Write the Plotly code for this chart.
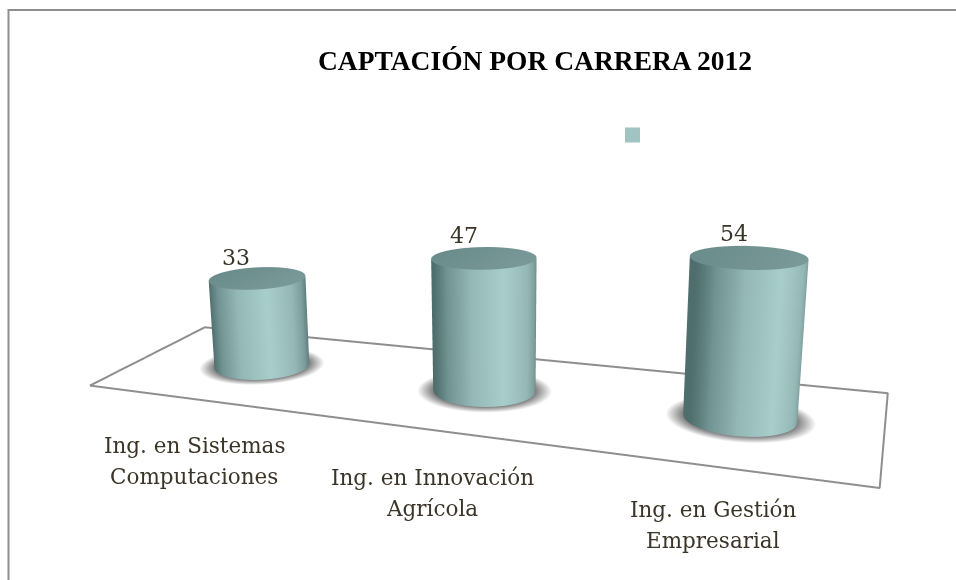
import numpy as np
import plotly.graph_objects as go

categories = ["Ing. en Sistemas<br>Computaciones", "Ing. en Innovación<br>Agrícola", "Ing. en Gestión<br>Empresarial"]
values = [33, 47, 54]
title_text = "<b>CAPTACIÓN POR CARRERA 2012</b>"

# Placement of each cylinder on the floor (floor units, base offset in value units)
cyl_x = [1.346, 3.653, 5.984]
cyl_y = [1.205, 1.567, 2.046]
cyl_base = [-0.2, -4.9, -10.7]
value_xshift = [-21, -19, -14]
value_yshift = [6, 8, 9]
label_xshift = [4, 10, 4]
label_yshift = [-47, -49, -44]

FONT = "DejaVu Serif"
TITLE_FONT = "Liberation Serif"
UNIT_X = 2.4
DEPTH = 2.28
Z_PER_DIAM = 35
SCALE = 0.256

# Camera recovered from the vanishing points of the reference.
W, H = 1364, 983
LEFT, TOP = 274 - W/2, 317 - H/2
def px(x): return (x - LEFT)/W
def py(y): return 1 - (y - TOP)/H

body_scale = [[0, "#4f6d6d"], [0.1, "#729393"], [0.3, "#93b8b6"], [0.6, "#a8cecc"],
              [0.85, "#95b8b6"], [0.95, "#7d9e9d"], [1, "#607f7f"]]
cap_scale = [[0, "#6b8c8c"], [1, "#7a9999"]]
shadow_scale = [[0, "#6e6e6e"], [0.72, "#6e6e6e"], [0.86, "#b4b4b4"], [1, "#ffffff"]]
flat = dict(ambient=1, diffuse=0, specular=0, fresnel=0, roughness=1)

eye = dict(x=0.9184, y=-2.6518, z=0.737)
center = dict(x=-0.4646, y=-0.1078, z=-0.046)
up = dict(x=-0.079, y=0.254, z=0.964)
yaw = np.radians(27.8)

fig = go.Figure()
n = len(values)
width = UNIT_X*n
t = np.linspace(0, 2*np.pi, 121)

for i, v in enumerate(values):
    cx, cy, z0 = cyl_x[i], cyl_y[i], cyl_base[i]
    rr = np.linspace(0, 1, 16)
    R, T = np.meshgrid(rr, t)
    fig.add_trace(go.Surface(x=cx+0.66*R*np.cos(T), y=cy+0.66*R*np.sin(T), z=0*R+z0,
                             surfacecolor=R, colorscale=shadow_scale, cmin=0, cmax=1,
                             showscale=False, lighting=flat, hoverinfo="skip"))
    X = np.vstack([cx+0.5*np.cos(t)]*2)
    Y = np.vstack([cy+0.5*np.sin(t)]*2)
    Z = np.vstack([np.full_like(t, z0), np.full_like(t, z0+v)])
    u = (np.cos(t)*np.cos(yaw) + np.sin(t)*np.sin(yaw) + 1)/2
    fig.add_trace(go.Surface(x=X, y=Y, z=Z, surfacecolor=np.vstack([u, u]),
                             colorscale=body_scale, cmin=0, cmax=1, showscale=False,
                             lighting=flat, hoverinfo="skip"))
    fig.add_trace(go.Surface(x=cx+0.5*R*np.cos(T), y=cy+0.5*R*np.sin(T), z=0*R+z0+v,
                             surfacecolor=(R*np.cos(T)+1)/2, colorscale=cap_scale, cmin=0, cmax=1,
                             showscale=False, lighting=flat, hoverinfo="skip"))

fig.add_trace(go.Scatter3d(x=[0, width, width, 0, 0], y=[0, 0, DEPTH, DEPTH, 0], z=[0]*5,
                           mode="lines", line=dict(color="#8e8e8e", width=4), hoverinfo="skip"))

ann = []
for i, (v, c) in enumerate(zip(values, categories)):
    ann.append(dict(x=cyl_x[i], y=cyl_y[i], z=cyl_base[i]+v, text=str(v), showarrow=False, yanchor="bottom",
                    yshift=value_yshift[i], xshift=value_xshift[i],
                    font=dict(family=FONT, size=22, color="#3a3528")))
    for j, line in enumerate(c.split("<br>")):
        ann.append(dict(x=(i+0.5)*UNIT_X, y=0, z=0, text=line, showarrow=False, yanchor="middle",
                        xshift=label_xshift[i], yshift=label_yshift[i]-31*j,
                        font=dict(family=FONT, size=21.5, color="#3a3528")))

axis = dict(visible=False, showgrid=False, zeroline=False, showbackground=False, showspikes=False)
PAD_XY = 2.0
Z_LOW, Z_HIGH = -20, 80
fig.update_layout(
    width=W, height=H, margin=dict(l=0, r=0, t=0, b=0),
    paper_bgcolor="white", showlegend=False,
    title=dict(text=title_text, x=px(535), xanchor="center", y=py(60), yanchor="middle",
               font=dict(family=TITLE_FONT, size=27.5, color="#000000")),
    scene=dict(domain=dict(x=[0, 1], y=[0, 1]),
               xaxis=dict(axis, range=[-PAD_XY, width+PAD_XY]),
               yaxis=dict(axis, range=[-PAD_XY, DEPTH+PAD_XY]),
               zaxis=dict(axis, range=[Z_LOW, Z_HIGH]),
               aspectmode="manual",
               aspectratio=dict(x=(width+2*PAD_XY)*SCALE, y=(DEPTH+2*PAD_XY)*SCALE,
                                z=(Z_HIGH-Z_LOW)/Z_PER_DIAM*SCALE),
               camera=dict(eye=eye, center=center, up=up,
                           projection=dict(type="perspective")),
               annotations=ann),
    shapes=[
        dict(type="rect", xref="paper", yref="paper", x0=px(625), x1=px(640), y0=py(142), y1=py(127),
             fillcolor="#9fc4c2", line=dict(width=0)),
        dict(type="rect", xref="paper", yref="paper", x0=px(8.5), x1=px(1100), y0=py(700), y1=py(9.5),
             fillcolor="rgba(0,0,0,0)", line=dict(color="#8e8e8e", width=2)),
    ],
)
post = f"""
document.documentElement.style.overflow='hidden';
document.body.style.overflow='hidden';
document.body.style.margin='0';
var gd=document.getElementById('{{plot_id}}');
var wrap=gd.parentElement;
wrap.style.position='absolute';
wrap.style.left='{LEFT}px';
wrap.style.top='{TOP}px';
wrap.style.width='{W}px';
wrap.style.height='{H}px';
"""
fig.write_html("out.html", config=dict(displayModeBar=False), post_script=post)
